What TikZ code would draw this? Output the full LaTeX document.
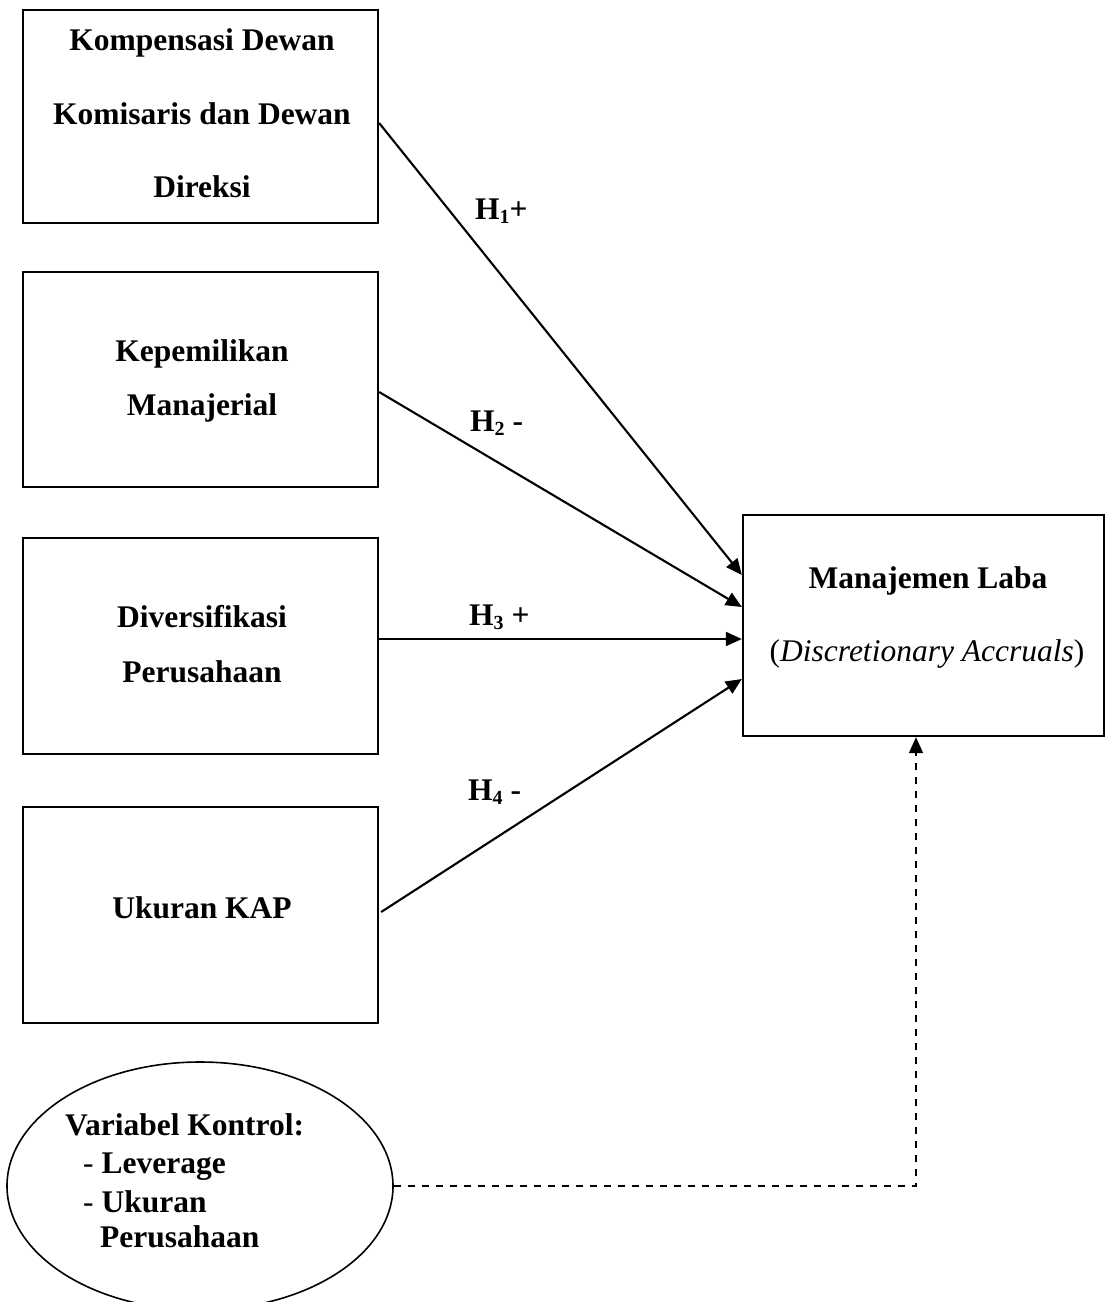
\documentclass[tikz,border=0pt]{standalone}
\usepackage{fontspec}
\setmainfont{Liberation Serif}
\usetikzlibrary{arrows.meta,shapes.geometric}
\newcommand\hsubs[1]{\raisebox{-4pt}{\fontsize{20}{20}\selectfont\bfseries #1}}
\begin{document}
\begin{tikzpicture}[x=1pt,y=-1pt,
  box/.style={draw=black, line width=2.3pt, rectangle, inner sep=0pt},
  txt/.style={anchor=base, inner sep=0pt, font=\fontsize{31.5}{37}\selectfont\bfseries},
  txtw/.style={txt, anchor=base west},
  lab/.style={anchor=base west, inner sep=0pt, font=\fontsize{31.5}{37}\selectfont\bfseries},
  conn/.style={line width=2.1pt, -{Triangle[length=16pt,width=14pt]}},
  ctrl/.style={line width=1.6pt, dash pattern=on 7pt off 7pt, -{Triangle[length=16pt,width=14pt]}}
]
\useasboundingbox (0,0) rectangle (1105,1302);
\clip (0,0) rectangle (1105,1302);

% boxes
\node[box, minimum width=355pt, minimum height=213pt] (b1) at (200.5,116.5) {};
\node[box, minimum width=355pt, minimum height=215pt] (b2) at (200.5,379.5) {};
\node[box, minimum width=355pt, minimum height=216pt] (b3) at (200.5,646) {};
\node[box, minimum width=355pt, minimum height=216pt] (b4) at (200.5,915) {};
\node[box, minimum width=361pt, minimum height=221pt] (mg) at (923.5,625.5) {};
\node[draw=black, line width=1.6pt, ellipse, inner sep=0pt, minimum width=386pt, minimum height=248pt] (el) at (200,1186) {};

% texts
\node[txt] (t1a) at (202,50) {Kompensasi Dewan};
\node[txt] (t1b) at (202,124) {Komisaris dan Dewan};
\node[txt] (t1c) at (202,197) {Direksi};
\node[txt] (t2a) at (202,361) {Kepemilikan};
\node[txt] (t2b) at (202,415) {Manajerial};
\node[txt] (t3a) at (202,627) {Diversifikasi};
\node[txt] (t3b) at (202,682) {Perusahaan};
\node[txt] (t4a) at (202,918) {Ukuran KAP};
\node[txt] (tma) at (928,588) {Manajemen Laba};
\node[txt, font=\fontsize{31.5}{37}\selectfont\mdseries] (tmb) at (927,661) {(\textit{Discretionary Accruals})};
\node[txtw] (tea) at (65,1135) {Variabel Kontrol:};
\node[txtw] (teb) at (83,1173) {\textmd{-} Leverage};
\node[txtw] (tec) at (83,1212) {\textmd{-} Ukuran};
\node[txtw] (ted) at (100,1247) {Perusahaan};

% hypothesis labels
\node[lab] (h1) at (475,219) {H\hsubs{1}+};
\node[lab] (h2) at (470,431) {H\hsubs{2} -};
\node[lab] (h3) at (469,625) {H\hsubs{3} +};
\node[lab] (h4) at (468,800) {H\hsubs{4} -};

% connectors
\draw[conn] ([yshift=-6.5pt]b1.east) -- ([yshift=50.5pt]mg.west);
\draw[conn] ([yshift=-12.5pt]b2.east) -- ([yshift=18.5pt]mg.west);
\draw[conn] ([yshift=7pt]b3.east) -- ([yshift=-13.5pt]mg.west);
\draw[conn] ([yshift=3pt,xshift=2pt]b4.east) -- ([yshift=-53.5pt]mg.west);
\draw[ctrl] (el.east) -| ([xshift=-7.5pt]mg.south);
\end{tikzpicture}
\end{document}
